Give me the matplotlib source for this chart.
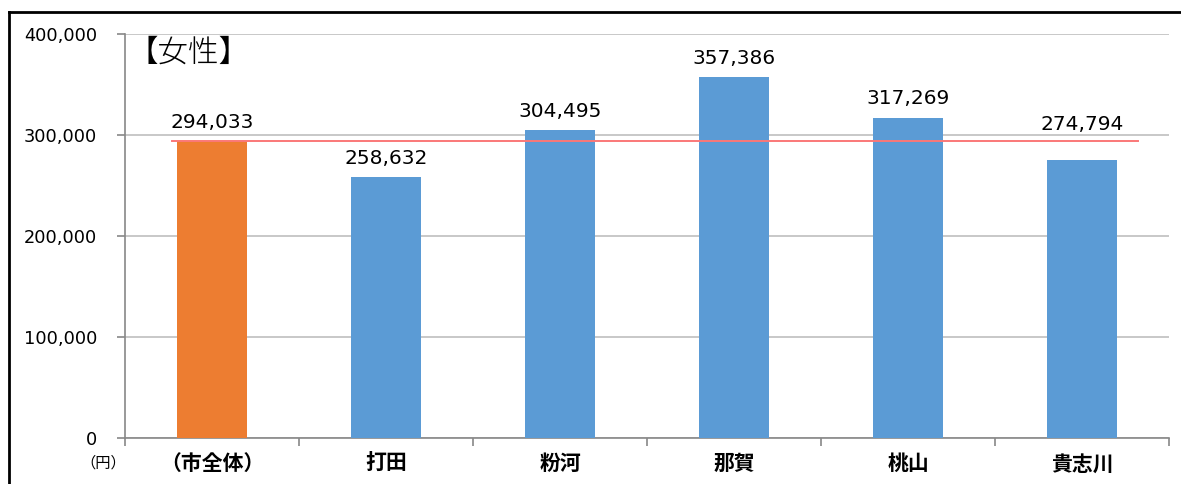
import numpy as np
import matplotlib.pyplot as plt
from matplotlib.lines import Line2D

plt.rcParams['font.family'] = ['DejaVu Sans', 'Noto Sans CJK JP']

# data
areas = ['（市全体）', '打田', '粉河', '那賀', '桃山', '貴志川']
values = [294033, 258632, 304495, 357386, 317269, 274794]
bar_colors = ['#ED7D31', '#5B9BD5', '#5B9BD5', '#5B9BD5', '#5B9BD5', '#5B9BD5']
city_avg = 294033
y_ticks = [0, 100000, 200000, 300000, 400000]
# label lift above the bar top (the last one is moved up above the red line)
label_lift = [13000, 13000, 13000, 13000, 13000, 30500]

fig = plt.figure(figsize=(11.81, 4.84), dpi=100)
ax = fig.add_axes([125/1181, 1 - 438/484, (1169 - 125)/1181, (438 - 34)/484])

x = np.arange(len(areas))
ax.bar(x, values, width=0.4, color=bar_colors, zorder=3)

# city average line
ax.plot([-0.23, 5.32], [city_avg, city_avg], color='#FA7878', lw=1.4, zorder=4)

for xi, v, lift in zip(x, values, label_lift):
    ax.text(xi, v + lift, f'{v:,}', ha='center', va='baseline', fontsize=14.5,
            family=['DejaVu Sans'], zorder=5)

ax.set_xlim(-0.5, len(areas) - 0.5)
ax.set_ylim(0, 400000)
ax.set_yticks(y_ticks)
ax.set_yticklabels([f'{t:,}' for t in y_ticks], fontsize=12.8)
ax.yaxis.grid(True, color='#BFBFBF', lw=1.2, zorder=0)

ax.set_xticks(x)
ax.set_xticklabels(areas, fontsize=15, fontweight='bold',
                   family=['Noto Sans CJK JP'])
ax.set_xticks(np.arange(len(areas) + 1) - 0.5, minor=True)
ax.tick_params(axis='x', which='major', length=0, pad=11)
ax.tick_params(axis='x', which='minor', length=6, color='#888888', width=1.2)
ax.tick_params(axis='y', length=6, color='#888888', width=1.2, pad=14)

for s in ['top', 'right']:
    ax.spines[s].set_visible(False)
for s in ['left', 'bottom']:
    ax.spines[s].set_color('#888888')
    ax.spines[s].set_linewidth(1.2)

fig.text(128/1181, 1 - 53/484, '【女性】', ha='left', va='center',
         fontsize=22, fontweight='light', family=['Noto Sans CJK JP'])

fig.text(103/1181, 1 - 463/484, '（円）', ha='center', va='center', fontsize=11,
         family=['Noto Sans CJK JP'])

# outer frame, only the left and top edges fall inside the picture
fx, fy = 9.5/1181, 1 - 11.5/484
fig.add_artist(Line2D([fx, fx], [0, fy], transform=fig.transFigure, color='black', lw=2))
fig.add_artist(Line2D([fx, 1], [fy, fy], transform=fig.transFigure, color='black', lw=2))

fig.savefig('out.png', dpi=100)
